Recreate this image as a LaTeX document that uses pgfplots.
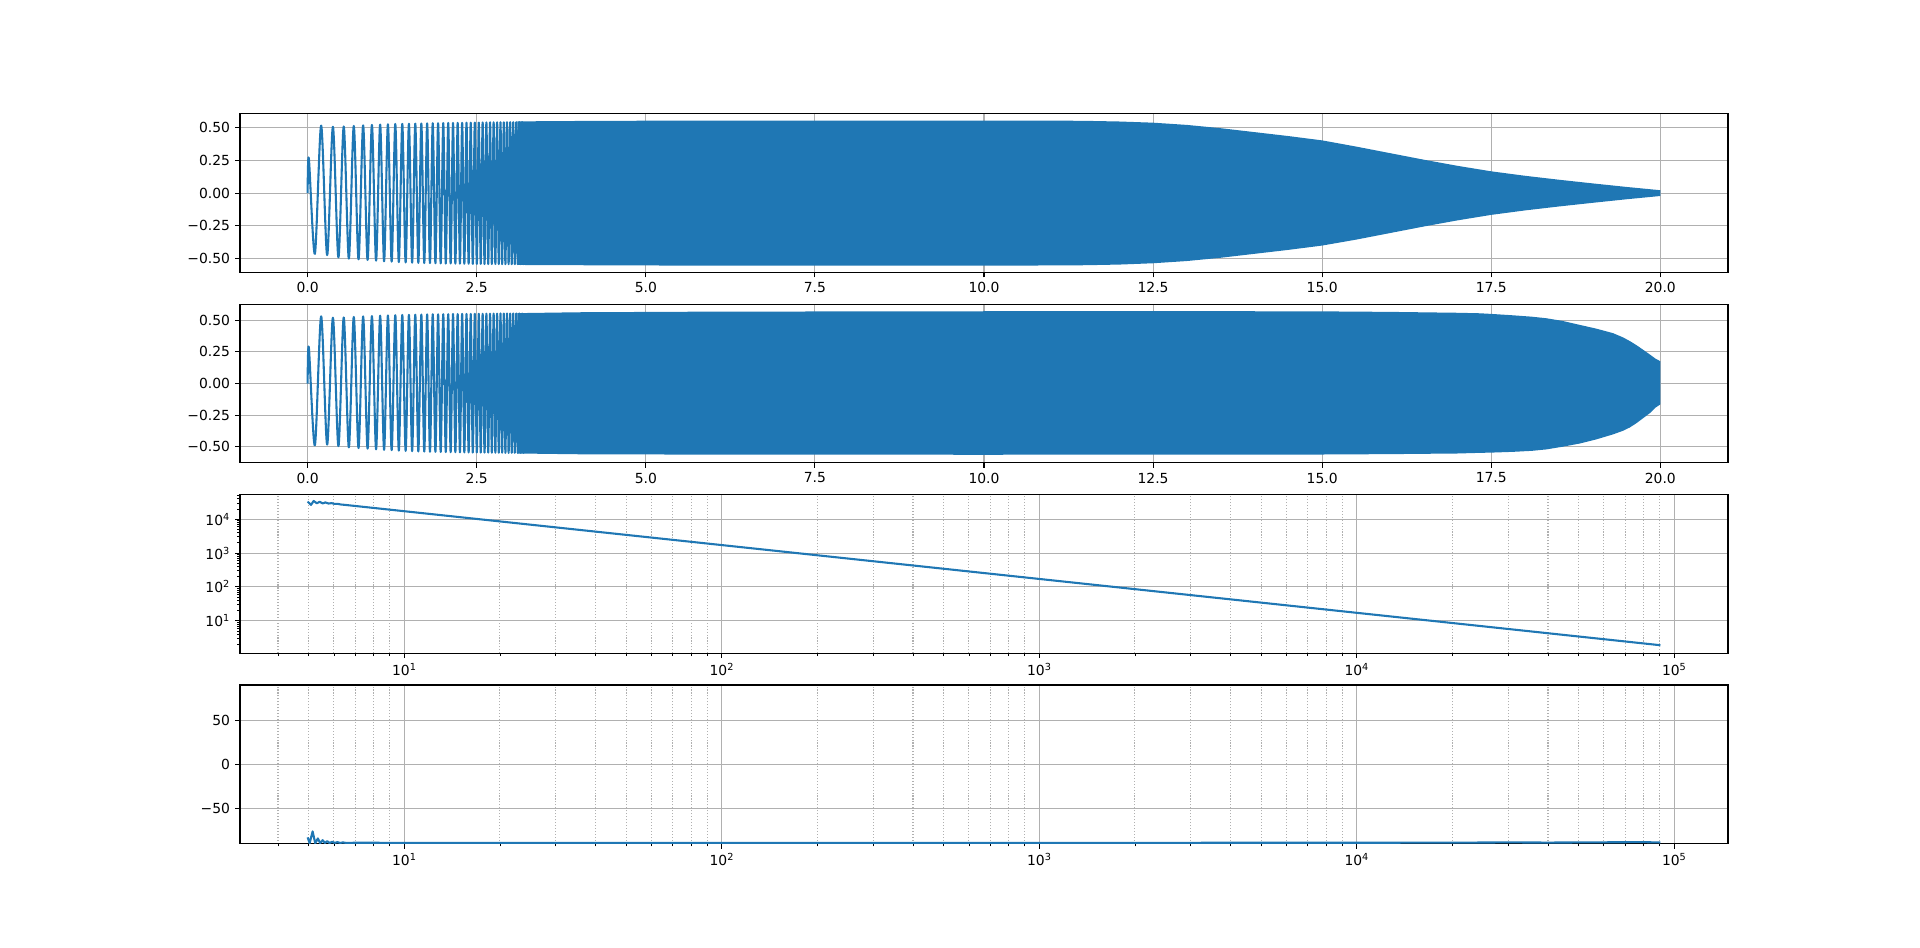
\documentclass[border=0pt]{standalone}
\usepackage{fontspec}
\setmainfont{DejaVu Sans}
\usepackage{pgfplots}
\pgfplotsset{compat=1.18}
\definecolor{c0}{HTML}{1F77B4}
\definecolor{gridc}{HTML}{B0B0B0}

\pgfplotsset{
  mpl/.style={
    scale only axis, width=14.88in, height=1.58687in,
    anchor=south west,
    axis line style={black, line width=0.8bp},
    tick align=outside, tick pos=left,
    major tick length=3.5bp, minor tick length=2bp,
    major tick style={black, line width=0.8bp},
    minor tick style={black, line width=0.6bp},
    xmajorgrids, ymajorgrids,
    major grid style={gridc, line width=0.8bp},
    minor grid style={gridc, line width=0.8bp, dash pattern=on 0.8bp off 1.32bp},
    tick label style={font=\fontsize{10bp}{12bp}\selectfont},
    xticklabel style={inner sep=0pt, yshift=-3.5bp},
    yticklabel style={inner sep=0pt, xshift=-3.5bp},
  },
  chirpx/.style={
    xmin=-1, xmax=21,
    xtick={0,2.5,5,7.5,10,12.5,15,17.5,20},
    xticklabels={0.0,2.5,5.0,7.5,10.0,12.5,15.0,17.5,20.0},
    ytick={-0.5,-0.25,0,0.25,0.5},
    yticklabels={−0.50,−0.25,0.00,0.25,0.50},
  },
  freqx/.style={
    xmin=3.036, xmax=147600,
    xtick={10,100,1000,10000,100000},
    xticklabels={10\textsuperscript{1},10\textsuperscript{2},10\textsuperscript{3},10\textsuperscript{4},10\textsuperscript{5}},
    minor xtick={4,5,6,7,8,9,20,30,40,50,60,70,80,90,200,300,400,500,600,700,800,900,
      2000,3000,4000,5000,6000,7000,8000,9000,20000,30000,40000,50000,60000,70000,80000,90000},
    xminorgrids,
  },
  sig/.style={c0, line width=1.5bp, line join=round},
}

\begin{document}
\begin{tikzpicture}
\path[use as bounding box] (0,0) rectangle (19.2in,9.48in);

% chirp 1
\begin{axis}[mpl, chirpx, at={(2.4in,6.7555in)}, ymin=-0.605, ymax=0.605]
\addplot[fill=c0, draw=none] coordinates {
(3.10,0.547) (4,0.550) (5,0.552) (8,0.553) (11.0,0.553) (11.5,0.551) (12.0,0.546)
(12.5,0.537) (13.0,0.520) (13.5,0.495) (14.0,0.465) (14.5,0.435) (15.0,0.402)
(15.5,0.355) (16.0,0.305) (16.5,0.255) (17.0,0.208) (17.5,0.166) (18.0,0.132)
(18.5,0.102) (19.0,0.074) (19.5,0.047) (20.0,0.022)
(20.0,-0.022) (19.5,-0.047) (19.0,-0.074) (18.5,-0.102) (18.0,-0.132) (17.5,-0.166)
(17.0,-0.208) (16.5,-0.255) (16.0,-0.305) (15.5,-0.355) (15.0,-0.400) (14.5,-0.433)
(14.0,-0.463) (13.5,-0.493) (13.0,-0.518) (12.5,-0.535) (12.0,-0.545) (11.5,-0.550)
(11.0,-0.552) (8,-0.553) (5,-0.552) (4,-0.550) (3.10,-0.548)
} -- cycle;
\addplot[sig, smooth] coordinates {
(0,0) (0.018,0.265) (0.1071,-0.463) (0.1999,0.515) (0.2886,-0.473) (0.3736,0.506)
(0.4552,-0.49) (0.5337,0.508) (0.6093,-0.50) (0.6822,0.512) (0.7526,-0.505) (0.8206,0.517)
(0.8864,-0.51) (0.9502,0.52) (1.0120,-0.515) (1.0720,0.523) (1.1303,-0.52) (1.1870,0.525)
(1.2422,-0.523) (1.2959,0.527) (1.3482,-0.526) (1.3992,0.528) (1.4490,-0.529) (1.4976,0.529)
(1.5450,-0.531) (1.5914,0.53) (1.6368,-0.532) (1.6811,0.531) (1.7245,-0.533) (1.7671,0.532)
(1.8087,-0.534) (1.8495,0.533) (1.8895,-0.535) (1.9288,0.533) (1.9673,-0.536) (2.0051,0.534)
(2.0422,-0.537) (2.0786,0.535) (2.1144,-0.537) (2.1496,0.535) (2.1842,-0.538) (2.2182,0.536)
(2.2517,-0.538) (2.2846,0.536) (2.3170,-0.539) (2.3489,0.537) (2.3803,-0.539) (2.4112,0.537)
(2.4416,-0.54) (2.4716,0.538) (2.5012,-0.54) (2.5304,0.538) (2.5592,-0.54) (2.5875,0.539)
(2.6155,-0.541) (2.6430,0.539) (2.6703,-0.541) (2.6971,0.54) (2.7236,-0.541) (2.7498,0.54)
(2.7757,-0.541) (2.8012,0.54) (2.8264,-0.541) (2.8513,0.54) (2.8759,-0.542) (2.9002,0.54)
(2.9242,-0.542) (2.9479,0.541) (2.9714,-0.542) (2.9946,0.541) (3.0175,-0.542) (3.0402,0.541)
(3.0626,-0.542) (3.0848,0.541) (3.1067,-0.542) (3.1284,0.541) (3.1499,-0.542) (3.1712,0.541)
(3.1922,-0.542) (3.2130,0.541)
};
\end{axis}

% chirp 2
\begin{axis}[mpl, chirpx, at={(2.4in,4.8513in)}, ymin=-0.627, ymax=0.627]
\addplot[fill=c0, draw=none] coordinates {
(3.10,0.556) (4,0.563) (6,0.568) (10,0.571) (14,0.571) (15,0.570) (16,0.566) (17,0.559)
(17.33,0.555) (17.5,0.550) (17.82,0.539) (18.1,0.528) (18.31,0.516) (18.55,0.495)
(18.81,0.463) (19.05,0.434) (19.30,0.398) (19.45,0.364) (19.55,0.335) (19.65,0.302)
(19.75,0.265) (19.85,0.227) (19.93,0.196) (20.0,0.176)
(20.0,-0.165) (19.93,-0.190) (19.85,-0.232) (19.75,-0.272) (19.65,-0.312) (19.55,-0.347)
(19.45,-0.373) (19.30,-0.402) (19.05,-0.442) (18.81,-0.474) (18.55,-0.500) (18.31,-0.521)
(18.1,-0.532) (17.82,-0.540) (17.5,-0.546) (17.33,-0.548) (17,-0.553) (16,-0.558)
(15,-0.561) (10,-0.563) (6,-0.562) (4,-0.559) (3.10,-0.553)
} -- cycle;
\addplot[sig, smooth] coordinates {
(0,0) (0.018,0.285) (0.1071,-0.488) (0.1999,0.531) (0.2886,-0.483) (0.3736,0.52)
(0.4552,-0.495) (0.5337,0.522) (0.6093,-0.505) (0.6822,0.526) (0.7526,-0.51) (0.8206,0.53)
(0.8864,-0.515) (0.9502,0.533) (1.0120,-0.52) (1.0720,0.536) (1.1303,-0.524) (1.1870,0.538)
(1.2422,-0.527) (1.2959,0.54) (1.3482,-0.53) (1.3992,0.542) (1.4490,-0.533) (1.4976,0.543)
(1.5450,-0.535) (1.5914,0.544) (1.6368,-0.537) (1.6811,0.545) (1.7245,-0.538) (1.7671,0.546)
(1.8087,-0.539) (1.8495,0.547) (1.8895,-0.54) (1.9288,0.547) (1.9673,-0.541) (2.0051,0.548)
(2.0422,-0.542) (2.0786,0.548) (2.1144,-0.543) (2.1496,0.549) (2.1842,-0.543) (2.2182,0.549)
(2.2517,-0.544) (2.2846,0.55) (2.3170,-0.544) (2.3489,0.55) (2.3803,-0.545) (2.4112,0.55)
(2.4416,-0.545) (2.4716,0.551) (2.5012,-0.545) (2.5304,0.551) (2.5592,-0.546) (2.5875,0.551)
(2.6155,-0.546) (2.6430,0.552) (2.6703,-0.546) (2.6971,0.552) (2.7236,-0.547) (2.7498,0.552)
(2.7757,-0.547) (2.8012,0.552) (2.8264,-0.547) (2.8513,0.553) (2.8759,-0.547) (2.9002,0.553)
(2.9242,-0.548) (2.9479,0.553) (2.9714,-0.548) (2.9946,0.553) (3.0175,-0.548) (3.0402,0.553)
(3.0626,-0.548) (3.0848,0.553) (3.1067,-0.548) (3.1284,0.553) (3.1499,-0.548) (3.1712,0.553)
(3.1922,-0.548) (3.2130,0.553)
};
\end{axis}

% magnitude
\begin{axis}[mpl, xmode=log, ymode=log, freqx, at={(2.4in,2.9470in)}, ymin=1.098, ymax=53200,
  ytick={10,100,1000,10000},
  yticklabels={10\textsuperscript{1},10\textsuperscript{2},10\textsuperscript{3},10\textsuperscript{4}},
  minor ytick={2,3,4,5,6,7,8,9,20,30,40,50,60,70,80,90,200,300,400,500,600,700,800,900,
    2000,3000,4000,5000,6000,7000,8000,9000,20000,30000,40000,50000}]
\addplot[sig] coordinates {
(4.957,33000) (5.08,26500) (5.18,34500) (5.30,29500) (5.41,32600) (5.53,29300)
(5.64,31200) (5.77,29000) (5.90,29800) (6.03,28200) (6.17,28300) (6.32,27100)
(6.5,26460) (7,24570) (8,21500) (10,17200) (100,1720) (1000,172) (10000,17.2) (90400,1.90)
};
\end{axis}

% phase
\begin{axis}[mpl, xmode=log, freqx, at={(2.4in,1.0428in)}, ymin=-90, ymax=90,
  ytick={-50,0,50}, yticklabels={−50,0,50}]
\addplot[sig] coordinates {
(4.958,-82.8) (5.03,-89.5) (5.14,-76.0) (5.24,-89.5) (5.34,-84.0) (5.43,-89.3)
(5.53,-86.0) (5.62,-89.2) (5.715,-87.0) (5.81,-89.2) (5.93,-87.8) (6.03,-89.1)
(6.15,-88.2) (6.28,-89.1) (6.4,-88.5) (6.55,-89.1) (7,-88.9) (10,-89.0) (100,-89.0)
(1000,-89.0) (10000,-88.9) (20000,-88.8) (30000,-88.5) (40000,-88.7) (60000,-88.4)
(80000,-88.2) (90400,-88.6)
};
\end{axis}
\end{tikzpicture}
\end{document}
